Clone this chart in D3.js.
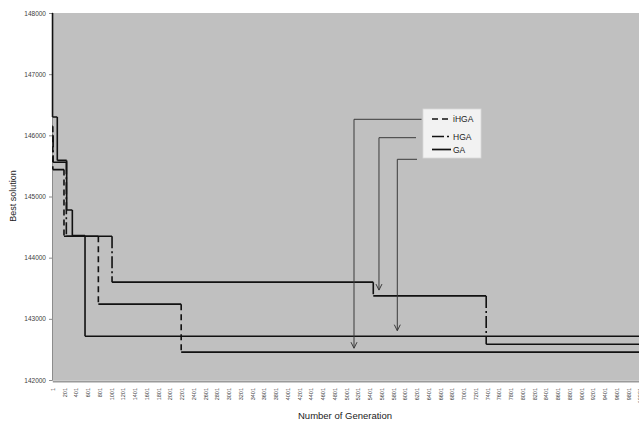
<!DOCTYPE html>
<html lang="en">
<head>
<meta charset="utf-8">
<title>Best solution vs generation</title>
<script src="https://d3js.org/d3.v7.min.js"></script>
<style>
  body { margin: 0; background: #fff; }
  svg { display: block; font-family: "Liberation Sans", Arial, sans-serif; }
  .yaxis text { font-size: 6.5px; fill: #404040; }
  .xaxis text { font-size: 5.5px; fill: #404040; }
</style>
</head>
<body>
<script>
// x tick labels (category labels every 200 generations)
const xTickLabels = [1, 201, 401, 601, 801, 1001, 1201, 1401, 1601, 1801, 2001, 2201, 2401, 2601, 2801,
  3001, 3201, 3401, 3601, 3801, 4001, 4201, 4401, 4601, 4801, 5001, 5201, 5401, 5601, 5801, 6001,
  6201, 6401, 6601, 6801, 7001, 7201, 7401, 7601, 7801, 8001, 8201, 8401, 8601, 8801, 9001, 9201,
  9401, 9601, 9801, 10001];
const yTickLabels = [142000, 143000, 144000, 145000, 146000, 147000, 148000];

// series: generation where best value changes, and the new best value
const gaGen = [1, 5, 86, 246, 342, 558, 10001];
const gaBest = [148000, 146300, 145590, 144780, 144360, 142715, 142715];
const hgaGen = [1, 15, 240, 1018, 5465, 7387, 10001];
const hgaBest = [146000, 145560, 144350, 143600, 143375, 142585, 142585];
const ihgaGen = [1, 10, 200, 785, 2195, 10001];
const ihgaBest = [146150, 145440, 144350, 143240, 142455, 142455];

const seriesNames = ["iHGA", "HGA", "GA"];
// arrow annotations: generation of the drop line, value at the arrow tip
const arrowGen = [5137, 5562, 5874];
const arrowTip = [142520, 143470, 142806];

const W = 639, H = 424;
const plotLeft = 52, plotTop = 13, plotBottom = 380;

const svg = d3.select("body").append("svg").attr("width", W).attr("height", H);

const x = d3.scaleLinear().domain([1, 10001]).range([52.3, 639.75]);
const y = d3.scaleLinear().domain([142000, 148000]).range([plotBottom, plotTop]);

// plot area
svg.append("rect").attr("x", plotLeft).attr("y", plotTop)
  .attr("width", W - plotLeft + 2).attr("height", plotBottom - plotTop)
  .attr("fill", "#c0c0c0");

// y axis
const yAxis = d3.axisLeft(y).tickValues(yTickLabels).tickFormat(d3.format("d")).tickSize(3).tickPadding(3);
const gy = svg.append("g").attr("class", "yaxis").attr("transform", "translate(" + plotLeft + ",0)").call(yAxis);
gy.select(".domain").attr("stroke", "#8c8c8c");
gy.selectAll(".tick line").attr("stroke", "#8c8c8c");

// x axis
const xAxis = d3.axisBottom(x).tickValues(xTickLabels).tickSize(0).tickFormat(d3.format("d"));
const gx = svg.append("g").attr("class", "xaxis").attr("transform", "translate(0," + (plotBottom + 1) + ")").call(xAxis);
gx.select(".domain").attr("stroke", "#9a9a9a").attr("stroke-width", 2);
gx.selectAll(".tick text")
  .attr("transform", "translate(2,7) rotate(-90)")
  .attr("text-anchor", "end")
  .attr("x", 0).attr("y", 0).attr("dy", 0);

// series lines: long flat runs read as solid, the drops carry the dash style
const series = [
  { name: "GA", gen: gaGen, best: gaBest, dash: null },
  { name: "HGA", gen: hgaGen, best: hgaBest, dash: "12,3,2,3" },
  { name: "iHGA", gen: ihgaGen, best: ihgaBest, dash: "6,4" }
];
series.forEach(s => {
  const g = svg.append("g").attr("fill", "none").attr("stroke", "#111").attr("stroke-width", 1.6);
  const flats = d3.range(s.gen.length - 1).map(i =>
    "M" + x(s.gen[i]) + "," + y(s.best[i]) + "H" + x(s.gen[i + 1]));
  const drops = d3.range(1, s.gen.length).filter(i => s.best[i] !== s.best[i - 1]).map(i =>
    "M" + x(s.gen[i]) + "," + y(s.best[i - 1]) + "V" + y(s.best[i]));
  g.append("path").attr("d", flats.join(""));
  g.append("path").attr("d", drops.join("")).attr("stroke-dasharray", s.dash);
});

// legend
const lg = svg.append("g").attr("transform", "translate(423,109)");
lg.append("rect").attr("width", 58).attr("height", 49)
  .attr("fill", "#f2f2f2").attr("stroke", "#d9d9d9").attr("stroke-width", 0.8);
const dashes = { iHGA: "6,4", HGA: "12,3,2,3", GA: null };
const rowY = [10, 27.5, 40.5];
seriesNames.forEach((n, i) => {
  lg.append("line").attr("x1", 9).attr("x2", 28).attr("y1", rowY[i]).attr("y2", rowY[i])
    .attr("stroke", "#111").attr("stroke-width", 1.7).attr("stroke-dasharray", dashes[n]);
  lg.append("text").attr("x", 30).attr("y", rowY[i] + 3)
    .attr("font-size", "8.5px").attr("fill", "#222").text(n);
});

// arrows from legend to final values
const arrowStart = [[421.5, 119.3], [416, 137.7], [417, 159.3]];
arrowGen.forEach((g, i) => {
  const ax = x(g), ay = y(arrowTip[i]);
  const [sx, sy] = arrowStart[i];
  svg.append("path")
    .attr("d", "M" + sx + "," + sy + "H" + ax + "V" + ay)
    .attr("fill", "none").attr("stroke", "#3a3a3a").attr("stroke-width", 1);
  svg.append("path")
    .attr("d", "M" + (ax - 3) + "," + (ay - 6) + "L" + ax + "," + ay + "L" + (ax + 3) + "," + (ay - 6))
    .attr("fill", "none").attr("stroke", "#3a3a3a").attr("stroke-width", 1);
});

// axis titles
svg.append("text").attr("x", 345).attr("y", 419).attr("text-anchor", "middle")
  .attr("font-size", "9.5px").attr("fill", "#222").text("Number of Generation");
svg.append("text").attr("transform", "translate(16,196) rotate(-90)").attr("text-anchor", "middle")
  .attr("font-size", "9px").attr("fill", "#222").text("Best solution");
</script>
</body>
</html>
